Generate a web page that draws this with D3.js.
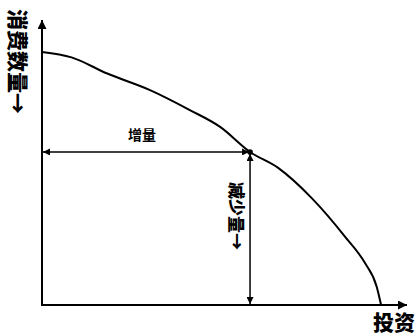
<!DOCTYPE html>
<html><head><meta charset="utf-8">
<script src="https://cdn.jsdelivr.net/npm/d3@7"></script>
<style>html,body{margin:0;padding:0;background:#fff;}svg{display:block;}</style>
</head><body>
<svg id="c" width="419" height="336"></svg>
<script>
// Data
const curveX = [0, 8.1, 17.7, 29.6, 40.5, 48.8, 57, 64.7, 73.9, 83, 88.5, 91.7, 92.9];
const curveY = [88.8, 86.9, 81.3, 75.4, 68.4, 62.5, 53.7, 48.1, 37.5, 24, 14.7, 6.4, 0];
const pointX = [57];
const pointY = [53.7];
const axisLabels = ["消费数量→", "投资"];
const changeLabels = ["增量", "减少量→"];

const svg = d3.select("#c");
const x = d3.scaleLinear().domain([0, 100]).range([42, 407]);
const y = d3.scaleLinear().domain([0, 100]).range([305, 20]);

const defs = svg.append("defs");
function marker(id, len, wid) {
  defs.append("marker").attr("id", id).attr("viewBox", "0 0 10 10")
    .attr("refX", 10).attr("refY", 5).attr("markerUnits", "userSpaceOnUse")
    .attr("markerWidth", len).attr("markerHeight", wid).attr("orient", "auto-start-reverse")
    .append("path").attr("d", "M0,0 L10,5 L0,10 Z").attr("fill", "#000");
}
marker("ax", 12, 9);
marker("sm", 11, 7);

// Axes
svg.append("line").attr("x1", x(0)).attr("y1", y(0)).attr("x2", x(0)).attr("y2", y(100))
  .attr("stroke", "#000").attr("stroke-width", 2).attr("marker-end", "url(#ax)");
svg.append("line").attr("x1", x(0) - 1).attr("y1", y(0)).attr("x2", x(100)).attr("y2", y(0))
  .attr("stroke", "#000").attr("stroke-width", 2).attr("marker-end", "url(#ax)");

// Curve
const pts = curveX.map((d, i) => [d, curveY[i]]);
svg.append("path").datum(pts)
  .attr("d", d3.line().x(d => x(d[0])).y(d => y(d[1])).curve(d3.curveMonotoneX))
  .attr("fill", "none").attr("stroke", "#000").attr("stroke-width", 2);

// Double arrows
svg.append("line").attr("x1", x(0) + 1).attr("y1", y(pointY[0])).attr("x2", x(pointX[0]) - 1).attr("y2", y(pointY[0]))
  .attr("stroke", "#000").attr("stroke-width", 1.5)
  .attr("marker-start", "url(#sm)").attr("marker-end", "url(#sm)");
svg.append("line").attr("x1", x(pointX[0])).attr("y1", y(pointY[0]) + 2).attr("x2", x(pointX[0])).attr("y2", y(0) - 1)
  .attr("stroke", "#000").attr("stroke-width", 1.5)
  .attr("marker-start", "url(#sm)").attr("marker-end", "url(#sm)");

svg.append("circle").attr("cx", x(pointX[0])).attr("cy", y(pointY[0])).attr("r", 2.8).attr("fill", "#000");

const font = "'Noto Sans CJK SC', sans-serif";
// Y axis label (vertical)
svg.append("text").attr("transform", `translate(19,9) rotate(90)`)
  .attr("font-family", font).attr("font-size", 21).attr("font-weight", 900)
  .attr("dominant-baseline", "central").text(axisLabels[0]);
// X axis label
svg.append("text").attr("x", 415).attr("y", 330).attr("text-anchor", "end")
  .attr("font-family", font).attr("font-size", 21).attr("font-weight", 900).text(axisLabels[1]);
// Horizontal change label
svg.append("text").attr("x", 142).attr("y", 140).attr("text-anchor", "middle")
  .attr("font-family", font).attr("font-size", 14).attr("font-weight", 700).text(changeLabels[0]);
// Vertical change label
svg.append("text").attr("transform", `translate(237,182) rotate(90)`)
  .attr("font-family", font).attr("font-size", 17).attr("font-weight", 900)
  .attr("dominant-baseline", "central").text(changeLabels[1]);
</script>
</body></html>
